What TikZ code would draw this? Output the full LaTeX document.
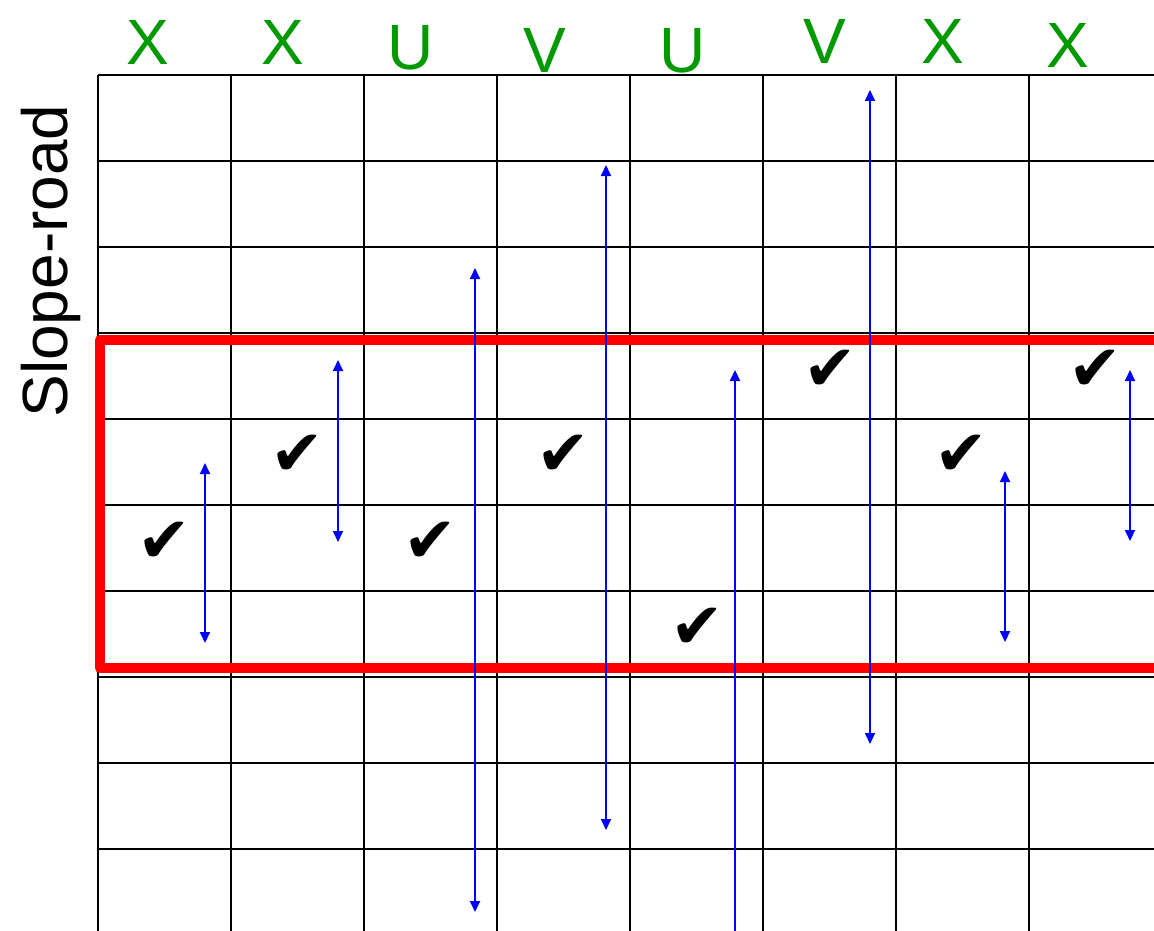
\documentclass[tikz,border=0pt]{standalone}
\usepackage{fontspec}
\setmainfont{Liberation Sans}
\newfontfamily\symfont{DejaVu Sans}
\usetikzlibrary{arrows.meta}
\definecolor{labgreen}{RGB}{0,153,0}
\definecolor{roadred}{RGB}{255,0,0}
\definecolor{arrblue}{RGB}{0,0,255}
\begin{document}
\begin{tikzpicture}[x=1pt,y=-1pt,
  gridline/.style={line width=2.6pt,black},
  colabel/.style={text=labgreen,font=\fontsize{64}{64}\selectfont,inner sep=0pt,anchor=base},
  tickmark/.style={font=\symfont\fontsize{64}{64}\selectfont,inner sep=0pt},
  spanarrow/.style={arrblue,line width=2pt,{Triangle[width=10pt,length=11pt]}-{Triangle[width=10pt,length=11pt]}},
  spanup/.style={arrblue,line width=2pt,-{Triangle[width=10pt,length=11pt]}},
  band/.style={roadred,line width=10.5pt,line join=round}]
\clip (0,0) rectangle (1154,931);
\fill[white] (0,0) rectangle (1154,931);
% grid
\foreach \k in {0,...,9}{
  \draw[gridline] (98,75+86*\k) -- (1170,75+86*\k);
}
\foreach \k in {0,...,7}{
  \draw[gridline] (98+133*\k,75) -- (98+133*\k,950);
}
% red band
\draw[band] (100,340) rectangle (1180,668);
% axis label
\node[rotate=90,anchor=base,inner sep=0pt,font=\fontsize{64}{64}\selectfont] (ylab) at (67,261) {Slope-road};
% column labels
\node[colabel] (c1) at (147.5,65) {X};
\node[colabel] (c2) at (283,65) {X};
\node[colabel] (c3) at (411,70) {U};
\node[colabel] (c4) at (545,72.5) {V};
\node[colabel] (c5) at (683,73) {U};
\node[colabel] (c6) at (825,64) {V};
\node[colabel] (c7) at (943,64) {X};
\node[colabel] (c8) at (1068,68) {X};
% arrow end points
\coordinate (a1t) at (205,463); \coordinate (a1b) at (205,643);
\coordinate (a2t) at (338,360); \coordinate (a2b) at (338,542);
\coordinate (a3t) at (475,268); \coordinate (a3b) at (475,912);
\coordinate (a4t) at (606,165); \coordinate (a4b) at (606,830);
\coordinate (a5t) at (735,370); \coordinate (a5b) at (735,940);
\coordinate (a6t) at (870,90);  \coordinate (a6b) at (870,744);
\coordinate (a7t) at (1005,471); \coordinate (a7b) at (1005,642);
\coordinate (a8t) at (1130,370); \coordinate (a8b) at (1130,541);
\draw[spanarrow] (a1t) -- (a1b);
\draw[spanarrow] (a2t) -- (a2b);
\draw[spanarrow] (a3t) -- (a3b);
\draw[spanarrow] (a4t) -- (a4b);
\draw[spanup] (a5b) -- (a5t);
\draw[spanarrow] (a6t) -- (a6b);
\draw[spanarrow] (a7t) -- (a7b);
\draw[spanarrow] (a8t) -- (a8b);
% check marks
\node[tickmark] (k1) at (164,542) {✔};
\node[tickmark] (k2) at (297,455) {✔};
\node[tickmark] (k3) at (430,542) {✔};
\node[tickmark] (k4) at (563,455) {✔};
\node[tickmark] (k5) at (697,628) {✔};
\node[tickmark] (k6) at (830,370) {✔};
\node[tickmark] (k7) at (961,455) {✔};
\node[tickmark] (k8) at (1095,370) {✔};
\end{tikzpicture}
\end{document}
